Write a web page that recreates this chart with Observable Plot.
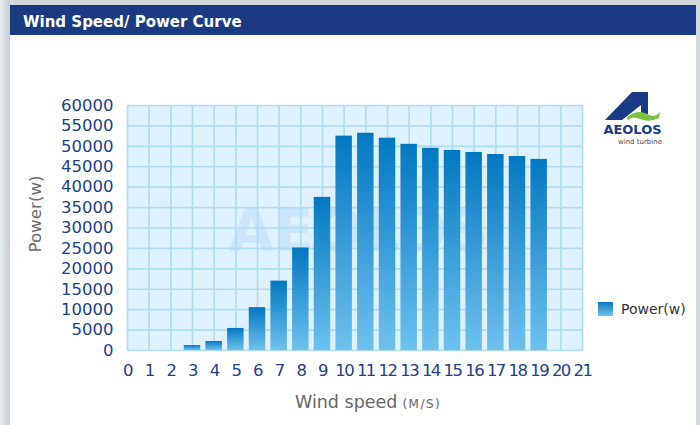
<!DOCTYPE html>
<html>
<head>
<meta charset="utf-8">
<script src="https://cdn.jsdelivr.net/npm/d3@7"></script>
<script src="https://cdn.jsdelivr.net/npm/@observablehq/plot@0.6"></script>
<style>
html,body{margin:0;padding:0;width:700px;height:425px;overflow:hidden;background:#d3dadd;font-family:"DejaVu Sans",Verdana,sans-serif}
#leftstrip{position:absolute;left:0;top:0;width:10px;height:425px;background:linear-gradient(to right,#e6eaec,#c4cdd1)}
#panel{position:absolute;left:10px;top:5px;width:686px;height:425px;background:#fff}
#chart{position:absolute;left:10px;top:35px}
#overlay{position:absolute;left:0;top:0;pointer-events:none}
#chart g[aria-label="x-axis tick label"] text{letter-spacing:-1.6px}
</style>
</head>
<body>
<div id="leftstrip"></div>
<div id="panel"></div>
<div id="chart"></div>
<svg id="overlay" width="700" height="425" font-family="DejaVu Sans, Verdana, sans-serif">
  <defs>
    <linearGradient id="legGrad" x1="0" y1="0" x2="0" y2="1">
      <stop offset="0" stop-color="#0a79c2"/>
      <stop offset="1" stop-color="#6fc2ef"/>
    </linearGradient>
  </defs>
  <rect x="10" y="5" width="686" height="30" fill="#1b3a84"/>
  <text x="23" y="27" fill="#fff" font-weight="bold" font-size="15">Wind Speed/ Power Curve</text>
  <text transform="translate(41,214) rotate(-90)" text-anchor="middle" font-size="16.7" fill="#6b6b6b">Power(w)</text>
  <text x="295" y="408" font-size="17.5" fill="#666">Wind speed<tspan font-size="12" dx="5" letter-spacing="1.5">(M/S)</tspan></text>
  <rect x="598" y="302" width="15" height="14" fill="url(#legGrad)"/>
  <text x="621" y="314" font-size="14" fill="#333">Power(w)</text>
  <g id="logo">
    <polygon points="605,120 632,92 648,92 648,114 641,114 641,105 622,120" fill="#1b3a84"/>
    <path d="M627,117 Q638,109 647,114 T660,111 L659,118 Q649,123 640,119 T628,121 Z" fill="#7cc242"/>
    <text x="632.5" y="134" text-anchor="middle" font-weight="bold" font-size="13" fill="#1b3a84">AEOLOS</text>
    <text x="640" y="143.5" text-anchor="middle" font-size="7" fill="#444">wind turbine</text>
  </g>
</svg>
<script>
const speeds = d3.range(0, 22);
const barSpeeds = [3, 4, 5, 6, 7, 8, 9, 10, 11, 12, 13, 14, 15, 16, 17, 18, 19];
const powerW = [1200, 2200, 5400, 10500, 17000, 25100, 37500, 52500, 53200, 52000, 50500, 49500, 49000, 48500, 48000, 47500, 46800];
const yTicks = d3.range(0, 60001, 5000);

const data = barSpeeds.map((s, i) => ({speed: s, power: powerW[i]}));
const half = 0.38;

const chart = Plot.plot({
  width: 686,
  height: 390,
  marginLeft: 117,
  marginRight: 114,
  marginTop: 70,
  marginBottom: 75,
  style: {background: "transparent", fontFamily: "DejaVu Sans, Verdana, sans-serif", fontSize: "16.5px", color: "#223f88", overflow: "visible"},
  x: {domain: [0, 21], ticks: speeds, tickSize: 0, tickPadding: 14, tickFormat: d => String(d), label: null},
  y: {domain: [0, 60000], ticks: yTicks, tickSize: 0, tickPadding: 14, tickFormat: d3.format("d"), label: null},
  marks: [
    Plot.frame({fill: "#dff1fc", stroke: "#c4e4f8"}),
    Plot.text(["AEOLOS"], {frameAnchor: "middle", dy: 4, dx: 4, fontSize: 58, fontWeight: "bold", fill: "#cce5f8", text: d => d}),
    Plot.gridX(speeds, {stroke: "#b0dbf5", strokeOpacity: 1, strokeWidth: 1.6}),
    Plot.gridY(yTicks, {stroke: "#b0dbf5", strokeOpacity: 1, strokeWidth: 1.6}),
    Plot.rectY(data, {x1: d => d.speed - half, x2: d => d.speed + half, y: "power", fill: "url(#barGrad)"})
  ]
});
chart.insertAdjacentHTML("afterbegin", '<defs><linearGradient id="barGrad" x1="0" y1="0" x2="0" y2="1"><stop offset="0" stop-color="#0277c1"/><stop offset="1" stop-color="#6ec1ee"/></linearGradient></defs>');
document.getElementById("chart").appendChild(chart);
</script>
</body>
</html>
